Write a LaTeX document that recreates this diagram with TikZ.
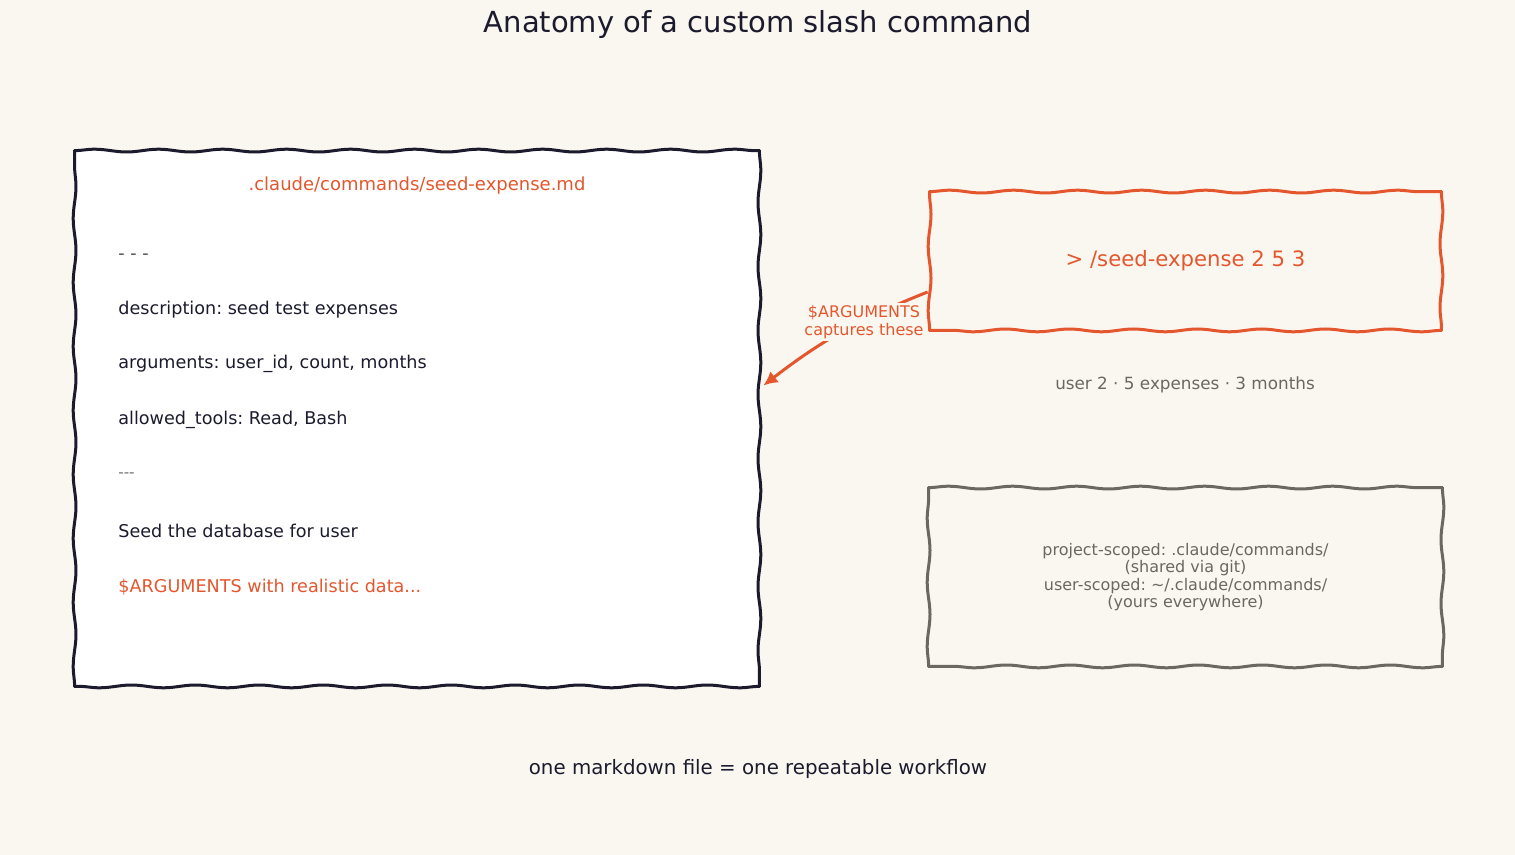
\documentclass[tikz,border=0pt]{standalone}
\usepackage{fontspec}
\setmainfont{DejaVu Sans}
\usepackage{xcolor}
\usetikzlibrary{positioning,calc,decorations.pathmorphing,arrows.meta}
\definecolor{paper}{HTML}{FAF7F0}
\definecolor{ink}{HTML}{1C1B2E}
\definecolor{rust}{HTML}{E4572E}
\definecolor{slate}{HTML}{6B6862}
\tikzset{
    sketch-box/.style = {rectangle, inner sep=0pt},
    wobble/.style = {line width=1.5pt, line cap=round, decorate, decoration={snake, segment length=32pt, amplitude=0.7pt}},
    md-line/.style = {anchor=base west, inner sep=0pt, text=ink, font=\fontsize{8.8}{10}\selectfont},
    note-text/.style = {text=slate, align=center, font=\fontsize{8}{8.75}\selectfont},
}
\frenchspacing

\begin{document}
\begin{tikzpicture}[x=0.5pt, y=-0.5pt]
\fill[paper] (0,0) rectangle (1515,855);
\node[text=ink, font=\fontsize{14.5}{16}\selectfont] (title) at (758,25) {Anatomy of a custom slash command};

% the markdown file
\node[sketch-box, fill=white, minimum width=342pt, minimum height=267.5pt] (mdfile) at (417,418.5) {};
\node[text=rust, font=\fontsize{9}{10}\selectfont, anchor=base] (fname) at (417,191) {.claude/commands/seed-expense.md};
\node[md-line, text=slate!60!ink] (dash-top) at (118,260) {- - -};
\node[md-line] (desc) at (118,315) {description: seed test expenses};
\node[md-line] (args) at (118,369) {arguments: user\_id, count, months};
\node[md-line] (tools) at (118,424) {allowed\_tools: Read, Bash};
\node[md-line, text=slate, font=\fontsize{7.5}{9}\selectfont] (dash-bot) at (118,478) {-{}-{}-};
\node[md-line] (body) at (118,537) {Seed the database for user};
\node[md-line, text=rust] (body-args) at (118,592) {\$ARGUMENTS with realistic data...};

% the command and where it lives
\node[sketch-box, minimum width=255.5pt, minimum height=69pt, text=rust, font=\fontsize{10.6}{12}\selectfont] (cmd) at (1185.5,261) {> /seed-expense 2 5 3};
\node[note-text, font=\fontsize{8.4}{10}\selectfont] (meaning) at (1185,385) {user 2 · 5 expenses · 3 months};
\node[sketch-box, minimum width=256.5pt, minimum height=89pt, note-text] (scope) at (1185.5,577)
    {project-scoped: .claude/commands/\\(shared via git)\\user-scoped: \textasciitilde/.claude/commands/\\(yours everywhere)};

% hand-drawn borders, one side at a time
\foreach \boxname/\col in {mdfile/ink, cmd/rust, scope/slate}
  \foreach \a/\b in {north west/north east, north east/south east, south east/south west, south west/north west}
    \draw[wobble, \col] (\boxname.\a) -- (\boxname.\b);

\coordinate (arg-out) at ($(cmd.west)+(-2,31)$);
\coordinate (arg-in) at ($(mdfile.east)+(4,-33)$);
\draw[rust, line width=1.5pt, -{Latex[length=7pt, width=7pt]}] (arg-out) to[bend right=8] (arg-in);
\node[fill=paper, inner sep=1pt, text=rust, align=center, font=\fontsize{8}{9}\selectfont] (arg-label) at (864,322) {\$ARGUMENTS\\captures these};

\node[text=ink, font=\fontsize{9.9}{12}\selectfont] (motto) at (758,769) {one markdown file = one repeatable workflow};
\end{tikzpicture}
\end{document}
